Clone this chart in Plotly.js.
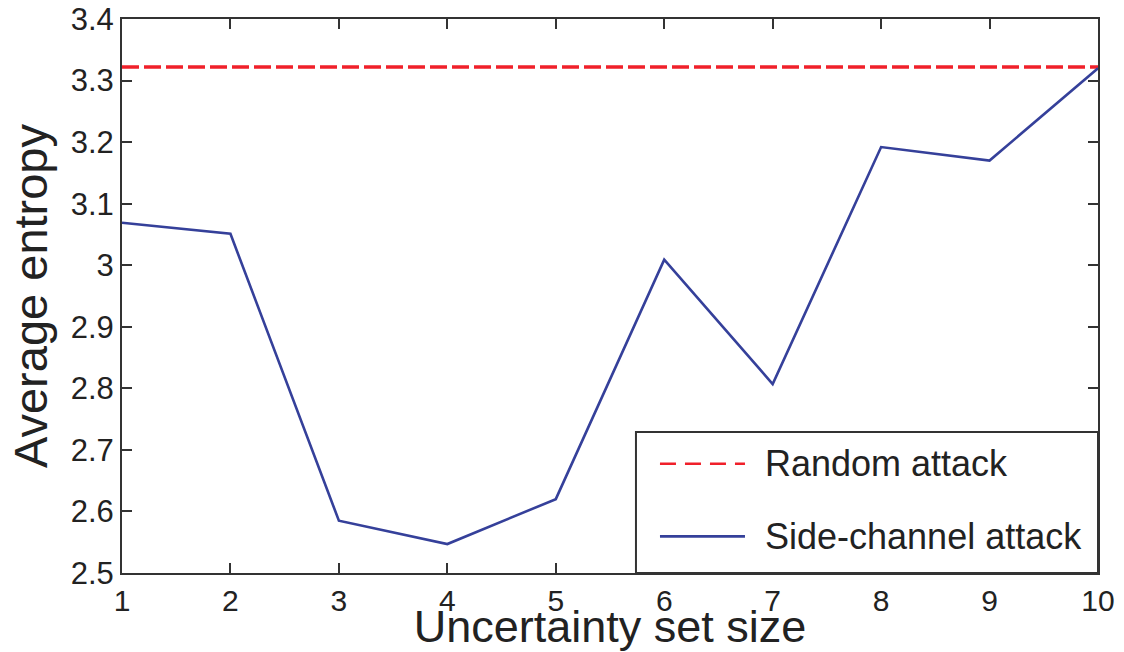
<!DOCTYPE html>
<html>
<head>
<meta charset="utf-8">
<script src="https://cdn.plot.ly/plotly-3.0.1.min.js"></script>
<style>html,body{margin:0;padding:0;background:#fff;}#chart{width:1124px;height:652px;}</style>
</head>
<body>
<div id="chart"></div>
<script>
// ---- data ----
const setSizes = [1, 2, 3, 4, 5, 6, 7, 8, 9, 10];
const sideChannelEntropy = [3.069, 3.051, 2.585, 2.547, 2.620, 3.009, 2.807, 3.192, 3.170, 3.320];
const randomEntropy = [3.322, 3.322, 3.322, 3.322, 3.322, 3.322, 3.322, 3.322, 3.322, 3.322];
const seriesNames = ["Random attack", "Side-channel attack"];
const xTickVals = [1, 2, 3, 4, 5, 6, 7, 8, 9, 10];
const xTickText = ["1", "2", "3", "4", "5", "6", "7", "8", "9", "10"];
const yTickVals = [2.5, 2.6, 2.7, 2.8, 2.9, 3.0, 3.1, 3.2, 3.3, 3.4];
const yTickText = ["2.5", "2.6", "2.7", "2.8", "2.9", "3", "3.1", "3.2", "3.3", "3.4"];

const FONT = '"Liberation Sans", Arial, Helvetica, sans-serif';
const RED = '#f0202a';
const BLUE = '#35409a';
const AX = '#333333';
const TXT = '#222222';

const traces = [
  {
    x: setSizes, y: randomEntropy, type: 'scatter', mode: 'lines',
    name: seriesNames[0], showlegend: false,
    line: {color: RED, width: 3.5, dash: '17px,5px'}
  },
  {
    x: setSizes, y: sideChannelEntropy, type: 'scatter', mode: 'lines',
    name: seriesNames[1], showlegend: false,
    line: {color: BLUE, width: 2.6}
  }
];

// custom legend (box, samples, labels) in paper coordinates
const lgX0 = 0.5266, lgY1 = 0.2545;
const sampleX0 = 0.5512, sampleX1 = 0.6383, textX = 0.6568;
const rowY = [0.197, 0.066];

const layout = {
  width: 1124, height: 652,
  margin: {l: 122, r: 26, t: 19, b: 79, pad: 0},
  paper_bgcolor: '#ffffff', plot_bgcolor: '#ffffff',
  font: {family: FONT, color: TXT, size: 31},
  showlegend: false,
  xaxis: {
    range: [1, 10], tickmode: 'array', tickvals: xTickVals, ticktext: xTickText,
    ticks: 'inside', ticklen: 10, tickwidth: 2, tickcolor: AX,
    showline: true, linecolor: AX, linewidth: 2, mirror: 'ticks',
    showgrid: false, zeroline: false,
    tickfont: {family: FONT, size: 30, color: TXT},
    title: {text: 'Uncertainty set size', font: {family: FONT, size: 45, color: TXT}, standoff: 2},
    automargin: false
  },
  yaxis: {
    range: [2.5, 3.4], tickmode: 'array', tickvals: yTickVals, ticktext: yTickText,
    ticks: 'inside', ticklen: 10, tickwidth: 2, tickcolor: AX,
    showline: true, linecolor: AX, linewidth: 2, mirror: 'ticks',
    showgrid: false, zeroline: false,
    tickfont: {family: FONT, size: 31, color: TXT},
    title: {text: 'Average entropy', font: {family: FONT, size: 47, color: TXT}, standoff: 8},
    automargin: false
  },
  shapes: [
    {type: 'rect', xref: 'paper', yref: 'paper', x0: lgX0, x1: 1, y0: 0, y1: lgY1,
     line: {color: AX, width: 2}, fillcolor: '#ffffff', layer: 'above'},
    {type: 'line', xref: 'paper', yref: 'paper', x0: sampleX0, x1: sampleX1, y0: rowY[0], y1: rowY[0],
     line: {color: RED, width: 2.5, dash: '16px,9px'}},
    {type: 'line', xref: 'paper', yref: 'paper', x0: sampleX0, x1: sampleX1, y0: rowY[1], y1: rowY[1],
     line: {color: BLUE, width: 2.8}}
  ],
  annotations: [
    {xref: 'paper', yref: 'paper', x: textX, y: rowY[0], text: seriesNames[0], showarrow: false,
     xanchor: 'left', yanchor: 'middle', font: {family: FONT, size: 36, color: TXT}},
    {xref: 'paper', yref: 'paper', x: textX, y: rowY[1], text: seriesNames[1], showarrow: false,
     xanchor: 'left', yanchor: 'middle', font: {family: FONT, size: 36, color: TXT}}
  ]
};

Plotly.newPlot('chart', traces, layout, {displayModeBar: false, staticPlot: true});
</script>
</body>
</html>
